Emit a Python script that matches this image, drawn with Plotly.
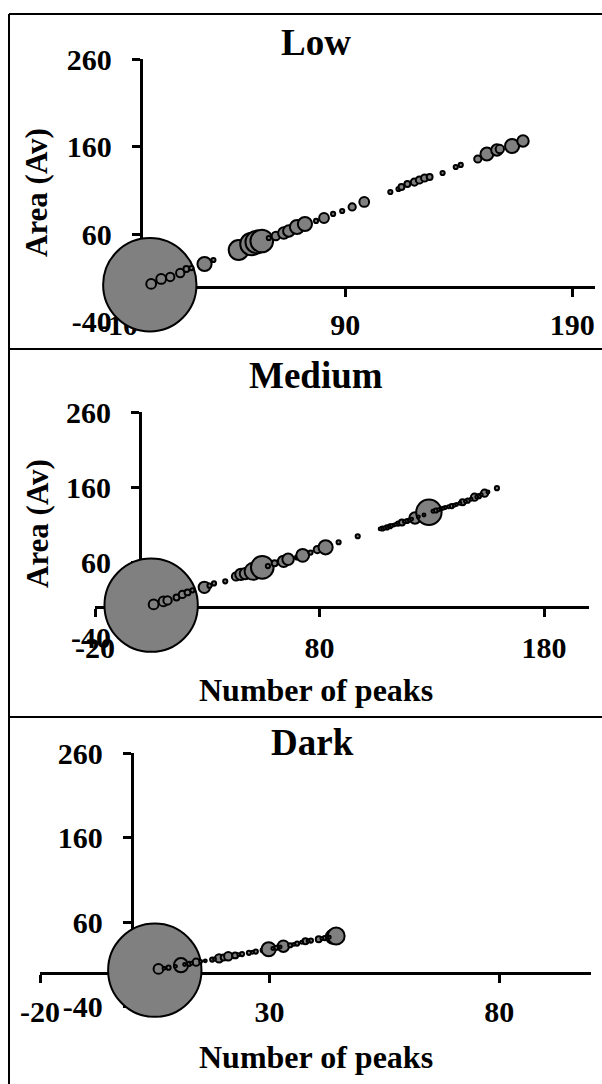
import plotly.graph_objects as go

W, H = 602, 1084

# ---------------- data ----------------
panel_titles = ["Low", "Medium", "Dark"]

low_x = [4, 4.6, 9.0, 13.0, 17.4, 20.1, 22.3, 28.1, 32.0, 43.1, 48.8, 51.1, 53.3, 56.4, 59.5,
         63.0, 65.2, 68.8, 72.3, 77.2, 80.7, 84.7, 88.7, 93.1, 98.4, 109.9, 113.5, 114.8,
         117.4, 120.5, 122.7, 125.0, 127.2, 132.9, 138.7, 140.9, 148.4, 152.4, 156.8, 158.1,
         163.5, 168.3]
low_y = [2, 2.9, 8.6, 10.9, 15.4, 20.0, 21.1, 25.7, 30.3, 41.7, 48.6, 50.9, 52.0, 55.4, 57.7,
         61.1, 63.4, 68.0, 71.4, 74.9, 78.3, 82.9, 86.3, 90.9, 96.6, 108.0, 111.4, 113.7,
         117.1, 119.4, 121.7, 124.0, 125.1, 129.7, 136.6, 138.9, 145.7, 151.4, 156.0, 157.1,
         160.6, 166.3]
low_s = [1000, 11, 11, 8, 8, 4, 2, 23, 2, 45, 59, 59, 59, 2, 8,
         15, 15, 23, 23, 2, 11, 2, 2, 6, 11, 2, 2, 4,
         4, 6, 6, 6, 4, 2, 2, 2, 6, 19, 15, 8,
         23, 15]

med_x = [5, 6.1, 10.5, 12.3, 16.3, 18.9, 21.2, 23.4, 28.7, 31, 33, 38, 42.8, 45, 47, 50.4,
         54.5, 57, 60, 64, 66, 70, 72.5, 76, 79, 82.7, 88.5, 97, 108, 110, 111.4, 113, 115,
         116.7, 119, 122.5, 125, 128.7, 131.8, 134, 136, 138.8, 141, 143.7, 146, 149, 151,
         153.5, 159,
         107, 109, 112, 114, 117.8, 120, 121, 124, 126.5, 130.5, 133, 135, 137.5, 140,
         142.5, 145, 147.5, 150, 152, 155]
med_y = [3, 4.0, 8.0, 9.3, 13.3, 17.3, 20.0, 22.7, 26.7, 29, 32, 34.7, 41.3, 44, 45, 48,
         53.3, 55, 58.7, 61.3, 64, 66.5, 69.3, 73, 77, 80, 86.7, 94.7, 105, 106.5, 108, 109.5,
         111.5, 113, 115, 119, 121.5, 126.7, 129, 131, 133, 134.7, 137, 140, 142, 146.7, 148,
         152, 158.7,
         104.5, 105.8, 108.8, 110.5, 114, 116, 117.5, 120.5, 123, 128, 130, 132, 134, 136,
         138.5, 141, 144, 147, 150, 153.5]
med_s = [1000, 11, 11, 8, 4, 6, 4, 2, 15, 2, 2, 2, 8, 15, 15, 33,
         59, 2, 4, 15, 15, 2, 19, 2, 6, 23, 2, 2, 2, 2, 2, 1, 2,
         4, 2, 15, 2, 74, 2, 1, 1, 2, 1, 4, 2, 6, 2,
         6, 2,
         1, 1, 1, 1, 1, 1, 1, 1, 1, 1, 1, 1, 1, 1,
         1, 1, 1, 1, 1, 1]

dark_x = [5, 5.8, 8, 10.7, 12.5, 14, 16, 17.5, 19, 20, 21, 22.5, 24, 25.5, 27, 28.5, 29.8,
          31.5, 33, 34.5, 36, 37.8, 39, 40.7, 42, 43.8, 44.5,
          7, 9.5, 11.5, 13, 15, 18, 23.3, 26.3, 30.7, 32.3, 35.3, 37, 38.4, 41.4, 43]
dark_y = [3, 4.5, 6, 8.9, 10.5, 12.4, 14, 15.5, 17, 18, 19.5, 20.5, 22, 23.5, 25, 26.5, 27.8,
          29.5, 31.4, 32.5, 34.5, 37.3, 38, 39.6, 41, 42.5, 43.5,
          5.2, 7.5, 9.6, 11.3, 13.2, 16.3, 21.2, 24.2, 28.7, 30.3, 33.5, 36, 37.6, 40.3, 42]
dark_s = [1000, 11, 2, 23, 2, 6, 1, 2, 8, 4, 8, 4, 2, 2, 2, 2, 23,
          2, 15, 2, 2, 4, 2, 4, 2, 23, 33,
          1, 1, 1, 1, 1, 1, 1, 1, 1, 1, 1, 1, 1, 1, 1]

y_ticks = [-40, 60, 160, 260]
x_ticks = [[-10, 90, 190], [-20, 80, 180], [-20, 30, 80]]
x_ranges = [[-10, 200], [-20, 200], [-20, 100]]
y_range = [-40, 260]

x_title = "Number of peaks"
y_title = "Area (Av)"

# ---------------- layout geometry (pixels) ----------------
# left, right, top, bottom of each plot area
boxes = [(118, 595, 59, 321.5), (95, 589, 412, 637.5), (40, 591, 753, 1006.5)]
title_y = [43, 376, 742]
title_x = [316, 316, 312]
ytitle_y = [193, 524, None]
xtitle_y = [None, 690, 1057]
x_standoff = [2, 5, 3]


def fx(p):
    return p / W


def fy(p):
    return 1 - p / H


FONT = "Liberation Serif"
series = [(low_x, low_y, low_s), (med_x, med_y, med_s), (dark_x, dark_y, dark_s)]

fig = go.Figure()
layout = dict(template="none", width=W, height=H, autosize=False,
              margin=dict(l=0, r=0, t=0, b=0, pad=0),
              paper_bgcolor="white", plot_bgcolor="rgba(0,0,0,0)", showlegend=False,
              font=dict(family=FONT, color="black"))
annotations = []
shapes = []

for i in range(3):
    xs, ys, ss = series[i]
    L, R, T, B = boxes[i]
    xr = x_ranges[i]
    x0px = L + (0 - xr[0]) / (xr[1] - xr[0]) * (R - L)
    y0px = T + (y_range[1] - 0) / (y_range[1] - y_range[0]) * (B - T)
    sfx = "" if i == 0 else str(i + 1)
    fig.add_trace(go.Scatter(
        x=xs, y=ys, mode="markers", xaxis="x" + sfx, yaxis="y" + sfx, cliponaxis=False,
        marker=dict(size=ss, sizemode="area", sizeref=max(ss) / 66 ** 2, sizemin=0,
                    color="#808080", line=dict(color="black", width=2), opacity=1),
        hoverinfo="skip"))
    layout["xaxis" + sfx] = dict(
        domain=[fx(L), fx(R)], range=xr, anchor="free", position=fy(y0px), automargin=False,
        showline=True, linecolor="black", linewidth=3, ticks="outside", ticklen=8,
        tickwidth=3, tickcolor="black", tickvals=x_ticks[i],
        ticktext=[str(v) for v in x_ticks[i]], showgrid=False, zeroline=False,
        tickfont=dict(family=FONT, size=30, weight="bold", color="black"),
        layer="below traces", ticklabelstandoff=x_standoff[i], fixedrange=True)
    layout["yaxis" + sfx] = dict(
        domain=[fy(B), fy(T)], range=y_range, anchor="free", position=fx(x0px), automargin=False,
        showline=True, linecolor="black", linewidth=3, ticks="outside", ticklen=8,
        tickwidth=3, tickcolor="black", tickvals=y_ticks,
        ticktext=[str(v) for v in y_ticks], showgrid=False, zeroline=False,
        tickfont=dict(family=FONT, size=30, weight="bold", color="black"),
        layer="below traces", ticklabelstandoff=14, fixedrange=True)
    annotations.append(dict(text=panel_titles[i], x=fx(title_x[i]), y=fy(title_y[i]),
                            xref="paper", yref="paper", showarrow=False,
                            xanchor="center", yanchor="middle",
                            font=dict(family=FONT, size=37, weight="bold", color="black")))
    if ytitle_y[i] is not None:
        annotations.append(dict(text=y_title, x=fx(37), y=fy(ytitle_y[i]), textangle=-90,
                                xref="paper", yref="paper", showarrow=False,
                                xanchor="center", yanchor="middle",
                                font=dict(family=FONT, size=31, weight="bold", color="black")))
    if xtitle_y[i] is not None:
        annotations.append(dict(text=x_title, x=fx(316), y=fy(xtitle_y[i]),
                                xref="paper", yref="paper", showarrow=False,
                                xanchor="center", yanchor="middle",
                                font=dict(family=FONT, size=32, weight="bold", color="black")))

# frame lines
line_style = dict(color="black", width=2)
shapes.append(dict(type="line", xref="paper", yref="paper", x0=fx(9), x1=fx(9), y0=fy(14), y1=0, line=line_style))
for yy in [14, 349, 717]:
    shapes.append(dict(type="line", xref="paper", yref="paper", x0=fx(9), x1=1, y0=fy(yy), y1=fy(yy), line=line_style))

layout["annotations"] = annotations
layout["shapes"] = shapes
fig.update_layout(**layout)
fig.write_html("out.html", config={"displayModeBar": False},
               post_script="document.body.style.margin='0px';document.body.style.overflow='hidden';")
